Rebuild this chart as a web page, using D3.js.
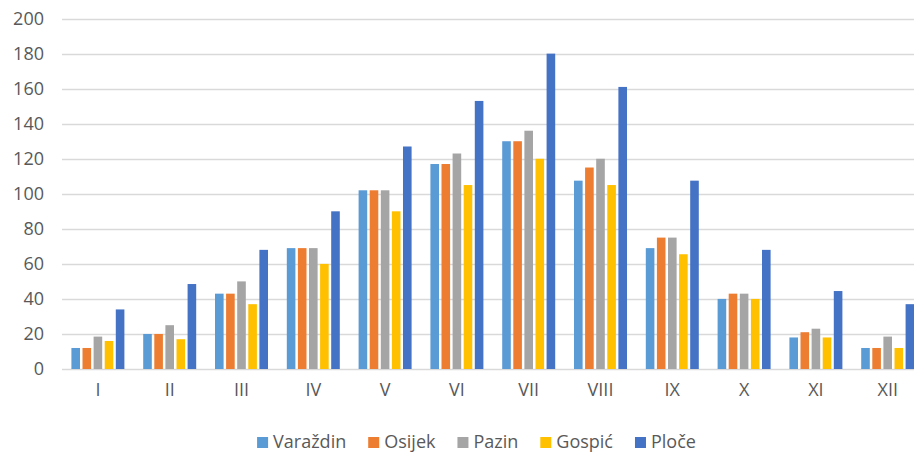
<!DOCTYPE html>
<html>
<head>
<meta charset="utf-8">
<script src="https://cdn.jsdelivr.net/npm/d3@7"></script>
<style>
  html, body { margin: 0; padding: 0; background: #fff; overflow: hidden; }
  svg { display: block; font-family: "Open Sans", "Liberation Sans", sans-serif; }
</style>
</head>
<body>
<svg id="chart" width="914" height="452"></svg>
<script>
// months (roman numerals) and the five stations
const months = ["I", "II", "III", "IV", "V", "VI", "VII", "VIII", "IX", "X", "XI", "XII"];
const stations = ["Varaždin", "Osijek", "Pazin", "Gospić", "Ploče"];
const colors = ["#5B9BD5", "#ED7D31", "#A5A5A5", "#FFC000", "#4472C4"];

// values per station
const varazdin = [12, 20, 43, 69, 102, 117, 130, 107.5, 69, 40, 18, 12];
const osijek   = [12, 20, 43, 69, 102, 117, 130, 115, 75, 43, 21, 12];
const pazin    = [18.5, 25, 50, 69, 102, 123, 136, 120, 75, 43, 23, 18.5];
const gospic   = [16, 17, 37, 60, 90, 105, 120, 105, 65.5, 40, 18, 12];
const ploce    = [34, 48.5, 68, 90, 127, 153, 180, 161, 107.5, 68, 44.5, 37];

const yTicks = [0, 20, 40, 60, 80, 100, 120, 140, 160, 180, 200];

const series = [varazdin, osijek, pazin, gospic, ploce];

const svg = d3.select("#chart");

// plot area runs past the right edge, as in the cropped original
const plot = { left: 62, top: 18.6, bottom: 369, right: 62 + 12 * 71.8 };

const x0 = d3.scaleBand()
    .domain(months)
    .range([plot.left, plot.right])
    .paddingInner(0.262)
    .paddingOuter(0.131);

const x1 = d3.scaleBand()
    .domain(stations)
    .range([0, x0.bandwidth()])
    .paddingInner(0.225);

const y = d3.scaleLinear()
    .domain([0, 200])
    .range([plot.bottom, plot.top]);

// gridlines
svg.append("g")
    .selectAll("line")
    .data(yTicks)
    .enter().append("line")
    .attr("x1", plot.left)
    .attr("x2", plot.right)
    .attr("y1", d => Math.round(y(d)) + 0.5)
    .attr("y2", d => Math.round(y(d)) + 0.5)
    .attr("stroke", "#D9D9D9")
    .attr("stroke-width", 1.3);

// y axis labels
const yAxis = svg.append("g")
    .attr("transform", `translate(${plot.left - 18}, 0)`)
    .call(d3.axisLeft(y).tickValues(yTicks).tickSize(0).tickPadding(0));
yAxis.select(".domain").remove();
yAxis.selectAll("text")
    .attr("font-family", "'Open Sans', 'Liberation Sans', sans-serif")
    .attr("font-size", 18)
    .attr("fill", "#595959");

// bars
const groups = svg.append("g")
    .selectAll("g")
    .data(months)
    .enter().append("g")
    .attr("transform", d => `translate(${x0(d)}, 0)`);

groups.selectAll("rect")
    .data((m, i) => stations.map((s, k) => ({ station: s, value: series[k][i], color: colors[k] })))
    .enter().append("rect")
    .attr("x", d => x1(d.station))
    .attr("y", d => y(d.value))
    .attr("width", x1.bandwidth())
    .attr("height", d => y(0) - y(d.value))
    .attr("fill", d => d.color);

// x axis labels
const xAxis = svg.append("g")
    .attr("transform", `translate(0, ${plot.bottom + 14})`)
    .call(d3.axisBottom(x0).tickSize(0).tickPadding(0));
xAxis.select(".domain").remove();
xAxis.selectAll("text")
    .attr("font-family", "'Open Sans', 'Liberation Sans', sans-serif")
    .attr("font-size", 18)
    .attr("fill", "#595959");

// legend, centred under the chart
const legend = svg.append("g");
let lx = 0;
stations.forEach((s, k) => {
    const item = legend.append("g").attr("transform", `translate(${lx}, 0)`);
    item.append("rect")
        .attr("x", 0).attr("y", -11)
        .attr("width", 11).attr("height", 11)
        .attr("fill", colors[k]);
    const t = item.append("text")
        .attr("x", 16)
        .attr("y", 0)
        .attr("font-size", 18)
        .attr("fill", "#595959")
        .text(s);
    lx += 16 + t.node().getComputedTextLength() + 22;
});
lx -= 22;
legend.attr("transform", `translate(${476.5 - lx / 2}, 448)`);
</script>
</body>
</html>
